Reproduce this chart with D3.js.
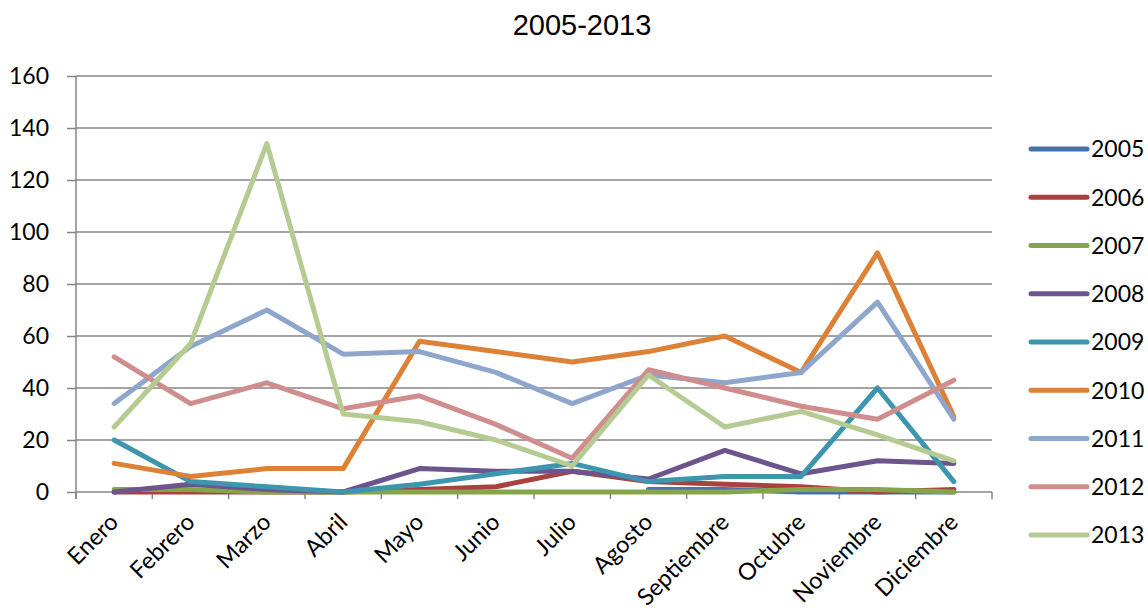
<!DOCTYPE html>
<html>
<head>
<meta charset="utf-8">
<script src="https://cdnjs.cloudflare.com/ajax/libs/d3/7.8.5/d3.min.js"></script>
<style>
body { margin: 0; background: #fff; }
svg text { font-family: Lato, "Liberation Sans", sans-serif; fill: #000; }
.grid { stroke: #868686; stroke-width: 1.5; }
.series { fill: none; stroke-width: 5; stroke-linejoin: round; stroke-linecap: round; }
</style>
</head>
<body>
<div id="chart"></div>
<script>
var months = ["Enero", "Febrero", "Marzo", "Abril", "Mayo", "Junio", "Julio",
              "Agosto", "Septiembre", "Octubre", "Noviembre", "Diciembre"];
var years = ["2005", "2006", "2007", "2008", "2009", "2010", "2011", "2012", "2013"];
var yTicks = [0, 20, 40, 60, 80, 100, 120, 140, 160];

var v2005 = [null, null, null, null, null, null, null, 1, 1, 0, 0, 0];
var v2006 = [0, 0, 0, 0, 1, 2, 8, 4, 3, 2, 0, 1];
var v2007 = [1, 1, 0, 0, 0, 0, 0, 0, 0, 1, 1, 0];
var v2008 = [0, 3, 1, 0, 9, 8, 8, 5, 16, 7, 12, 11];
var v2009 = [20, 4, 2, 0, 3, 7, 11, 4, 6, 6, 40, 4];
var v2010 = [11, 6, 9, 9, 58, 54, 50, 54, 60, 46, 92, 29];
var v2011 = [34, 56, 70, 53, 54, 46, 34, 45, 42, 46, 73, 28];
var v2012 = [52, 34, 42, 32, 37, 26, 13, 47, 40, 33, 28, 43];
var v2013 = [25, 57, 134, 30, 27, 20, 10, 45, 25, 31, 22, 12];

var seriesValues = [v2005, v2006, v2007, v2008, v2009, v2010, v2011, v2012, v2013];
var colors = ["#4672ac", "#a8423f", "#86a44a", "#6e548d", "#3d96ae",
              "#dd8136", "#8ea6cc", "#cf8e8d", "#b5cb92"];

var W = 1148, H = 614;
var pLeft = 76, pRight = 992, pTop = 76, pBottom = 492;

var svg = d3.select("#chart").append("svg")
    .attr("width", W)
    .attr("height", H);

var x = d3.scaleBand().domain(months).range([pLeft, pRight]).paddingInner(0).paddingOuter(0);
var y = d3.scaleLinear().domain([0, 160]).range([pBottom, pTop]);
var xc = function (m) { return x(m) + x.bandwidth() / 2; };

svg.append("text")
    .attr("x", 582)
    .attr("y", 35)
    .attr("text-anchor", "middle")
    .style("font-family", "'Liberation Sans', Arial, sans-serif")
    .style("font-size", "29px")
    .text("2005-2013");

// horizontal gridlines
svg.append("g").selectAll("line")
    .data(yTicks)
    .enter().append("line")
    .attr("class", "grid")
    .attr("x1", pLeft)
    .attr("x2", pRight)
    .attr("y1", function (d) { return y(d); })
    .attr("y2", function (d) { return y(d); });

// y axis
var yAxis = d3.axisLeft(y).tickValues(yTicks).tickSize(9).tickPadding(18);
var gy = svg.append("g")
    .attr("transform", "translate(" + pLeft + ",0)")
    .call(yAxis);
gy.select(".domain").remove();
gy.selectAll(".tick line").attr("class", "grid").attr("stroke", null);
gy.selectAll("text").style("font-size", "23px").style("font-family", "Lato, sans-serif").attr("fill", null);
svg.append("line")
    .attr("class", "grid")
    .attr("x1", pLeft).attr("x2", pLeft)
    .attr("y1", pTop).attr("y2", pBottom + 7);

// x axis tick marks at band edges
var edges = months.map(function (m) { return x(m); }).concat([pRight]);
svg.append("g").selectAll("line")
    .data(edges)
    .enter().append("line")
    .attr("class", "grid")
    .attr("x1", function (d) { return d; })
    .attr("x2", function (d) { return d; })
    .attr("y1", pBottom)
    .attr("y2", pBottom + 7);

// x labels rotated
svg.append("g").selectAll("text")
    .data(months)
    .enter().append("text")
    .attr("transform", function (d) {
        return "translate(" + (xc(d) - 6) + "," + (pBottom + 20) + ") rotate(-45)";
    })
    .attr("text-anchor", "end")
    .attr("dy", "0.7em")
    .style("font-size", "23.5px")
    .text(function (d) { return d; });

// series
var line = d3.line()
    .defined(function (d) { return d != null; })
    .x(function (d, i) { return xc(months[i]); })
    .y(function (d) { return y(d); });

svg.append("g").selectAll("path")
    .data(seriesValues)
    .enter().append("path")
    .attr("class", "series")
    .attr("stroke", function (d, i) { return colors[i]; })
    .attr("d", line);

// legend
var lg = svg.append("g").selectAll("g")
    .data(years)
    .enter().append("g")
    .attr("transform", function (d, i) { return "translate(1031," + (149 + i * 48.25) + ")"; });
lg.append("line")
    .attr("x1", 0).attr("x2", 56)
    .attr("stroke", function (d, i) { return colors[i]; })
    .attr("stroke-width", 5)
    .attr("stroke-linecap", "round");
lg.append("text")
    .attr("x", 60)
    .attr("dy", "0.36em")
    .style("font-size", "23px")
    .text(function (d) { return d; });
</script>
</body>
</html>
